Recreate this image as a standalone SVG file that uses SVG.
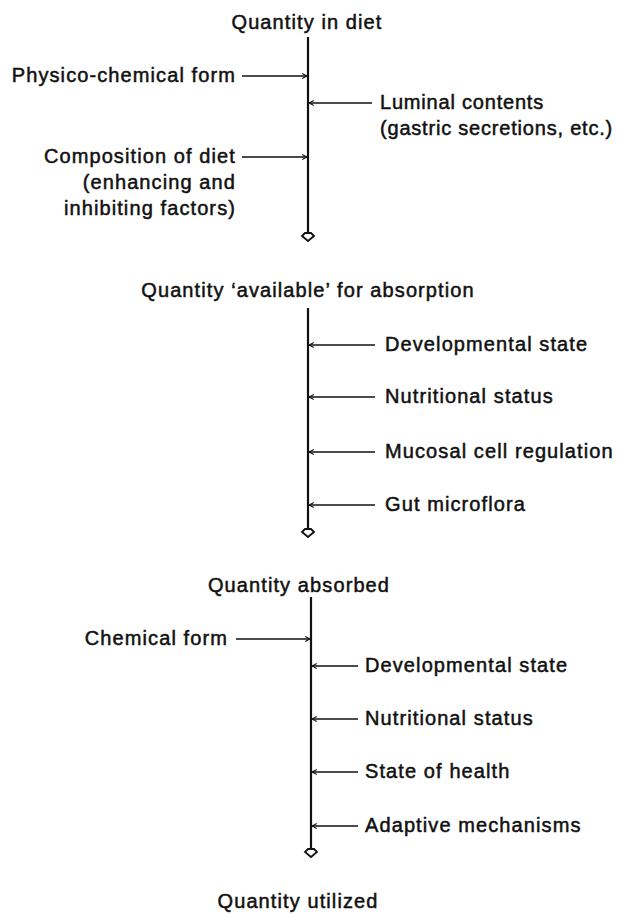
<svg xmlns="http://www.w3.org/2000/svg" width="618" height="914" viewBox="0 0 618 914">
<defs>
<style>
text{font-family:"Liberation Sans",Arial,sans-serif;font-size:20px;letter-spacing:1.1px;fill:#111;stroke:#111;stroke-width:0.5px}
.r{text-anchor:end}
.m{text-anchor:middle}
.tight{letter-spacing:0.8px}
.stem{stroke:#111;stroke-width:2.2;fill:none}
.arr{stroke:#111;stroke-width:1.6;fill:none;marker-end:url(#ah)}
.end{fill:#fff;stroke:#111;stroke-width:1.8}
</style>
<marker id="ah" viewBox="0 0 10 10" refX="9" refY="5" markerWidth="6" markerHeight="6" markerUnits="userSpaceOnUse" orient="auto">
<path d="M1,1 L9,5 L1,9" fill="none" stroke="#111" stroke-width="1.8"/>
</marker>
<path id="tip" d="M-3,-3 L3,-3 L6,0 L0,5 L-6,0 Z"/>
</defs>

<g id="connectors">
<line class="stem" x1="308" y1="37" x2="308" y2="232"/>
<use href="#tip" class="end" x="308" y="236"/>
<line class="arr" x1="242" y1="76" x2="307" y2="76"/>
<line class="arr" x1="372" y1="103" x2="309" y2="103"/>
<line class="arr" x1="242" y1="157" x2="307" y2="157"/>

<line class="stem" x1="308" y1="308" x2="308" y2="528"/>
<use href="#tip" class="end" x="308" y="532"/>
<line class="arr" x1="375" y1="345" x2="309" y2="345"/>
<line class="arr" x1="375" y1="397" x2="309" y2="397"/>
<line class="arr" x1="375" y1="452" x2="309" y2="452"/>
<line class="arr" x1="375" y1="505" x2="309" y2="505"/>

<line class="stem" x1="311" y1="597" x2="311" y2="848"/>
<use href="#tip" class="end" x="311" y="852"/>
<line class="arr" x1="236" y1="639" x2="310" y2="639"/>
<line class="arr" x1="358" y1="666" x2="312" y2="666"/>
<line class="arr" x1="358" y1="719" x2="312" y2="719"/>
<line class="arr" x1="358" y1="772" x2="312" y2="772"/>
<line class="arr" x1="358" y1="826" x2="312" y2="826"/>
</g>

<g id="n-diet"><text class="m" x="307" y="29">Quantity in diet</text></g>
<g id="n-physico"><text class="r" x="236" y="82">Physico-chemical form</text></g>
<g id="n-luminal"><text x="380" y="109" class="tight">Luminal contents</text><text x="380" y="135" class="tight">(gastric secretions, etc.)</text></g>
<g id="n-composition"><text class="r" x="236" y="163">Composition of diet</text><text class="r" x="236" y="189">(enhancing and</text><text class="r" x="236" y="215">inhibiting factors)</text></g>

<g id="n-available"><text class="m" x="308" y="297">Quantity ‘available’ for absorption</text></g>
<g id="n-dev1"><text x="385" y="351">Developmental state</text></g>
<g id="n-nut1"><text x="385" y="403">Nutritional status</text></g>
<g id="n-mucosal"><text x="385" y="458">Mucosal cell regulation</text></g>
<g id="n-gut"><text x="385" y="511">Gut microflora</text></g>

<g id="n-absorbed"><text class="m" x="299" y="592">Quantity absorbed</text></g>
<g id="n-chemical"><text class="r" x="228" y="645">Chemical form</text></g>
<g id="n-dev2"><text x="365" y="672">Developmental state</text></g>
<g id="n-nut2"><text x="365" y="725">Nutritional status</text></g>
<g id="n-health"><text x="365" y="778">State of health</text></g>
<g id="n-adaptive"><text x="365" y="832">Adaptive mechanisms</text></g>

<g id="n-utilized"><text class="m" x="298" y="908">Quantity utilized</text></g>
</svg>
